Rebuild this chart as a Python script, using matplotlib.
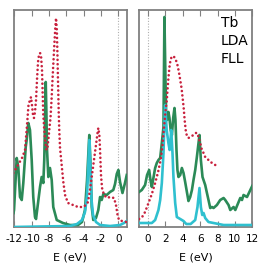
#!/usr/bin/env python
# Tb LDA FLL: partial DOS, occupied (left) and unoccupied (right) window
import matplotlib

matplotlib.use("Agg")
import matplotlib.pyplot as plt

# ---- left panel (E < EF side) ----
green_left_e = [-12.1, -12.04, -11.73, -11.55, -11.35, -11.15, -10.97, -10.69, -10.58, -10.39,
                -10.2, -10.0, -9.82, -9.62, -9.5, -9.04, -8.85, -8.66, -8.55, -8.46, -8.38,
                -8.31, -8.23, -8.08, -7.89, -7.69, -7.51, -7.11, -6.39, -5.58, -4.65, -4.19,
                -3.85, -3.61, -3.44, -3.35, -3.23, -3.07, -2.89, -2.58, -2.31, -2.11, -1.92,
                -1.73, -1.34, -0.96, -0.58, -0.38, -0.18, 0.0, 0.2, 0.48, 0.77, 0.97]
green_left_v = [14, 17, 69, 60, 30, 27, 44, 80, 87, 104,
                97, 67, 30, 10, 8, 40, 50, 44, 67, 107, 145,
                117, 77, 50, 59, 47, 20, 7, 4, 2, 2, 5,
                17, 47, 77, 92, 67, 20, 7, 9, 17, 30, 27,
                33, 32, 35, 37, 43, 53, 57, 45, 34, 44, 52]

cyan_left_e = [-12.1, -5.58, -4.77, -4.19, -3.85, -3.61, -3.44, -3.35, -3.23, -3.09, -2.92,
               -2.58, -2.11, -0.96, 0.2, 0.66, 0.97]
cyan_left_v = [0, 1, 3, 7, 15, 32, 67, 87, 62, 27, 12,
               5, 2, 1, 2, 4, 6]

red_left_e = [-12.12, -11.58, -11.12, -10.77, -10.54, -10.37, -10.2, -10.08, -9.97, -9.85,
              -9.74, -9.62, -9.5, -9.39, -9.27, -9.16, -9.04, -8.93, -8.81, -8.73, -8.66,
              -8.55, -8.43, -8.29, -8.18, -8.06, -7.94, -7.83, -7.71, -7.6, -7.48, -7.37,
              -7.27, -7.19, -7.1, -7.04, -6.98, -6.93, -6.88, -6.81, -6.73, -6.54, -6.35,
              -6.15, -5.81, -5.23, -4.65, -4.08, -3.73, -3.5, -3.27, -3.04, -2.81, -2.58,
              -2.4, -2.31, -2.19, -2.11, -2.0, -1.88, -1.65, -1.3, -0.96, -0.5, -0.27,
              -0.09, 0.08, 0.43, 0.97]
red_left_v = [54, 62, 69, 77, 102, 122, 127, 130, 122, 112,
              109, 115, 127, 147, 165, 172, 174, 172, 157, 132, 112,
              97, 85, 77, 79, 89, 100, 109, 127, 147, 167, 185,
              200, 209, 197, 177, 152, 134, 114, 95, 79, 62, 45,
              32, 24, 22, 20, 20, 22, 25, 37, 52, 67, 82,
              94, 99, 92, 77, 52, 39, 32, 29, 30, 29, 22,
              12, 7, 6, 5]

# ---- right panel (E > EF side) ----
green_right_e = [-1.05, -0.73, -0.35, -0.12, 0.12, 0.27, 0.43, 0.61, 0.81, 1.0, 1.19, 1.39,
                 1.58, 1.77, 1.88, 2.0, 2.08, 2.19, 2.34, 2.46, 2.6, 2.74, 2.89, 3.04, 3.15,
                 3.27, 3.38, 3.5, 3.7, 3.89, 4.08, 4.27, 4.47, 4.65, 4.85, 5.05, 5.23, 5.43,
                 5.62, 5.81, 5.92, 6.08, 6.27, 6.58, 6.78, 6.96, 7.16, 7.36, 7.54, 7.93, 8.31,
                 8.7, 8.89, 9.27, 9.47, 9.85, 10.05, 10.43, 10.62, 10.82, 11.0, 11.4, 11.78, 12.0]
green_right_v = [35, 37, 42, 52, 57, 47, 40, 49, 59, 64, 67, 69,
                 84, 100, 210, 147, 112, 107, 115, 109, 97, 92, 109, 119, 107,
                 77, 57, 50, 52, 59, 54, 45, 35, 26, 30, 37, 47, 57,
                 70, 84, 92, 67, 50, 42, 34, 27, 19, 20, 19, 22, 27,
                 29, 27, 22, 17, 20, 17, 25, 29, 27, 32, 30, 37, 41]

cyan_right_e = [-1.05, 0.43, 0.81, 1.19, 1.39, 1.58, 1.77, 1.88, 1.96, 2.14, 2.34, 2.48,
                2.58, 2.66, 2.81, 2.92, 3.12, 3.31, 3.7, 4.08, 4.4, 4.9, 5.43, 5.69, 5.92,
                6.08, 6.24, 6.39, 6.58, 6.96, 7.54, 8.7, 12.0]
cyan_right_v = [4, 4, 7, 17, 27, 44, 74, 104, 122, 97, 84, 77,
                87, 97, 74, 50, 24, 10, 8, 6, 3, 3, 7, 20, 39,
                20, 12, 14, 9, 5, 4, 2, 2]

red_right_e = [-1.04, -0.69, -0.35, 0.0, 0.43, 0.81, 1.15, 1.44, 1.65, 1.77, 1.88, 2.02,
               2.16, 2.25, 2.34, 2.46, 2.58, 2.71, 2.85, 3.0, 3.2, 3.38, 3.55, 3.7, 3.85,
               3.98, 4.1, 4.21, 4.33, 4.47, 4.65, 4.85, 5.23, 5.49, 5.66, 5.81, 6.0, 6.2,
               6.39, 6.58, 6.96, 7.36, 7.74, 8.12]
red_right_v = [8, 10, 15, 23, 33, 44, 55, 67, 81, 94, 104, 117,
               127, 139, 149, 160, 167, 170, 171, 170, 167, 162, 155, 147, 139,
               129, 119, 107, 97, 91, 89, 90, 92, 94, 94, 90, 84, 77,
               74, 70, 67, 64, 62, 60]

left_ticks = [-12, -10, -8, -6, -4, -2, 0]
right_ticks = [0, 2, 4, 6, 8, 10, 12]
labels = ["Tb", "LDA", "FLL"]

GREEN = "#2b8a57"
CYAN = "#2fc0cf"
RED = "#c8213d"
FRAME = "#808080"

plt.rcParams["axes.unicode_minus"] = False
plt.rcParams["font.family"] = "DejaVu Sans"

fig = plt.figure(figsize=(2.66, 2.66), dpi=100)
ax_l = fig.add_axes([0.0508, 0.1466, 0.4256, 0.814])
ax_r = fig.add_axes([0.5226, 0.1466, 0.4256, 0.814])

panels = [
    (ax_l, (-12.1, 0.97), left_ticks, green_left_e, green_left_v, cyan_left_e, cyan_left_v,
     red_left_e, red_left_v),
    (ax_r, (-1.05, 12.0), right_ticks, green_right_e, green_right_v, cyan_right_e,
     cyan_right_v, red_right_e, red_right_v),
]

for ax, xlim, ticks, ge, gv, ce, cv, re_, rv in panels:
    ax.axvline(0, color="#b0b0b0", lw=0.8, ls=(0, (1, 1.5)), zorder=1)
    ax.plot(ge, gv, color=GREEN, lw=1.9, solid_joinstyle="round", zorder=3)
    ax.plot(ce, cv, color=CYAN, lw=1.9, solid_joinstyle="round", zorder=4)
    ax.plot(re_, rv, color=RED, lw=1.9, ls=(0, (0.01, 1.65)), dash_capstyle="round", zorder=5)
    ax.set_xlim(*xlim)
    ax.set_ylim(0, 216.5)
    ax.set_xticks(ticks)
    ax.set_yticks([])
    ax.tick_params(axis="x", direction="in", top=True, length=4.5, width=0.8,
                   color=FRAME, labelsize=7.5, pad=5)
    for sp in ax.spines.values():
        sp.set_color(FRAME)
        sp.set_linewidth(1.3)
    ax.set_xlabel("E (eV)", fontsize=8, labelpad=6)

for i, t in enumerate(labels):
    ax_r.text(0.725, 0.942 - i * 0.082, t, transform=ax_r.transAxes, fontsize=10,
              ha="left", va="center")

fig.savefig("out.png", dpi=100)
